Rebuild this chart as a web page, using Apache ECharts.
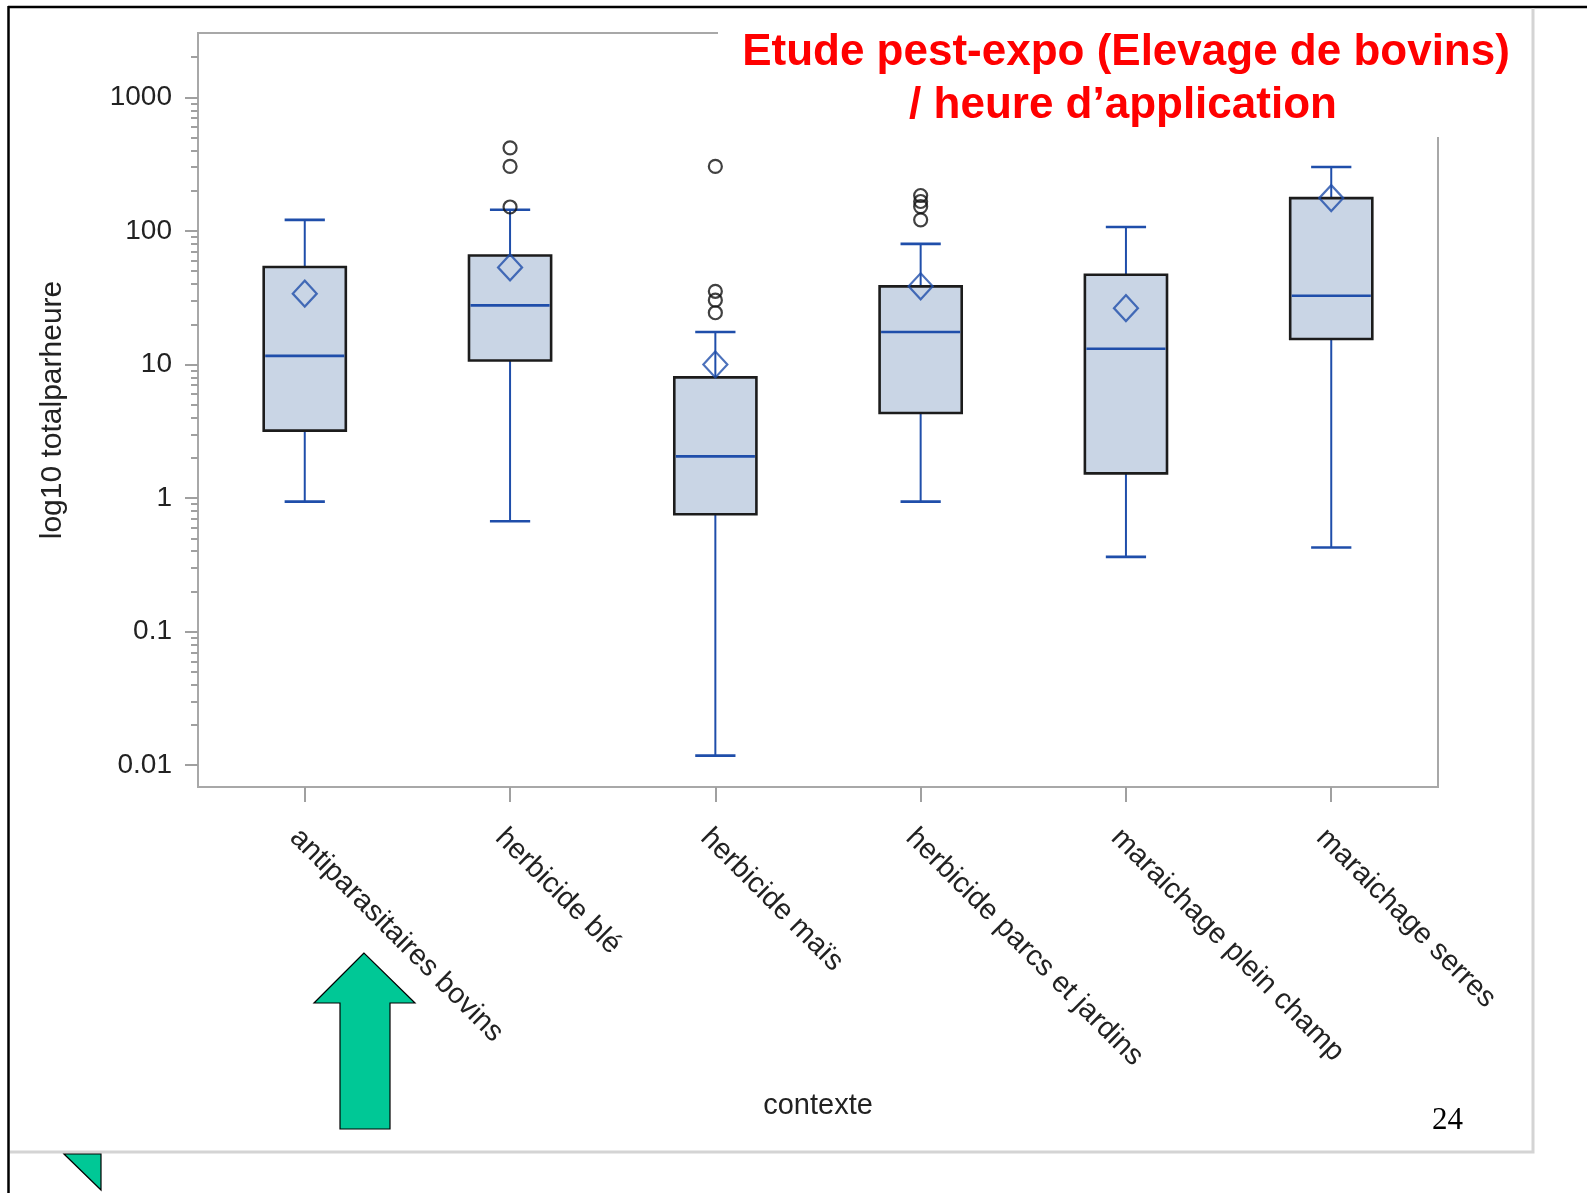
<!DOCTYPE html>
<html>
<head>
<meta charset="utf-8">
<script src="https://cdn.jsdelivr.net/npm/echarts@6/dist/echarts.min.js"></script>
<style>
  html, body { margin: 0; padding: 0; background: #ffffff; }
  #chart { width: 1587px; height: 1193px; }
</style>
</head>
<body>
<div id="chart"></div>
<script>
// Exposure per hour of application, by context (log scale)
const categories = ['antiparasitaires bovins', 'herbicide blé', 'herbicide maïs',
  'herbicide parcs et jardins', 'maraichage plein champ', 'maraichage serres'];
const whiskerLow  = [0.94, 0.67, 0.0118, 0.94, 0.363, 0.426];
const quartile1   = [3.2, 10.7, 0.757, 4.33, 1.53, 15.5];
const medians     = [11.6, 27.7, 2.05, 17.5, 13.1, 32.7];
const quartile3   = [53.6, 65.5, 8.0, 38.4, 47.0, 176];
const whiskerHigh = [121, 144, 17.5, 80, 107, 301];
const means       = [33.9, 53.3, 10.0, 38.5, 26.4, 176];
const outlierCategory = [1, 1, 1, 2, 2, 2, 2, 3, 3, 3, 3];
const outlierValue    = [418, 304, 151, 304, 35.3, 30.3, 24.4, 184, 166, 152, 121];
const yTickValues = [0.01, 0.1, 1, 10, 100, 1000];
const yTickLabels = ['0.01', '0.1', '1', '10', '100', '1000'];
const yRange = [0.00687, 3030];

const lg = Math.log10;
const BLUE = '#1f4eaa';
const FONT = '"Liberation Sans", Arial, Helvetica, sans-serif';

const majorTicks = yTickValues.map(lg);
const minorTicks = [];
for (let d = -2; d <= 3; d++) {
  for (let k = 2; k <= 9; k++) {
    const v = lg(k * Math.pow(10, d));
    if (v < lg(yRange[1]) - 0.1) minorTicks.push(v);
  }
}
const xTicks = categories.map((c, i) => i);

const boxData = categories.map((c, i) => [i, lg(whiskerLow[i]), lg(quartile1[i]),
  lg(medians[i]), lg(quartile3[i]), lg(whiskerHigh[i])]);
const meanData = categories.map((c, i) => [i, lg(means[i])]);
const outlierData = outlierValue.map((v, j) => [outlierCategory[j], lg(v)]);

function renderBox(params, api) {
  const x = api.value(0);
  const unit = api.size([1, 0])[0];
  const half = unit * 0.2;
  const capHalf = unit * 0.098;
  const pLow = api.coord([x, api.value(1)]);
  const pQ1 = api.coord([x, api.value(2)]);
  const pMed = api.coord([x, api.value(3)]);
  const pQ3 = api.coord([x, api.value(4)]);
  const pHigh = api.coord([x, api.value(5)]);
  const cx = pLow[0];
  const whisker = { stroke: BLUE, lineWidth: 2 };
  const cap = { stroke: BLUE, lineWidth: 2.6 };
  return {
    type: 'group',
    children: [
      { type: 'line', shape: { x1: cx, y1: pQ1[1], x2: cx, y2: pLow[1] }, style: whisker },
      { type: 'line', shape: { x1: cx, y1: pQ3[1], x2: cx, y2: pHigh[1] }, style: whisker },
      { type: 'line', shape: { x1: cx - capHalf, y1: pLow[1], x2: cx + capHalf, y2: pLow[1] }, style: cap },
      { type: 'line', shape: { x1: cx - capHalf, y1: pHigh[1], x2: cx + capHalf, y2: pHigh[1] }, style: cap },
      { type: 'rect', shape: { x: cx - half, y: pQ3[1], width: half * 2, height: pQ1[1] - pQ3[1] },
        style: { fill: '#c9d5e5', stroke: '#1c1c1c', lineWidth: 2.6 } },
      { type: 'line', shape: { x1: cx - half + 1.5, y1: pMed[1], x2: cx + half - 1.5, y2: pMed[1] },
        style: { stroke: BLUE, lineWidth: 2.6 } }
    ]
  };
}

const chart = echarts.init(document.getElementById('chart'), null, { renderer: 'canvas' });
chart.setOption({
  animation: false,
  backgroundColor: '#ffffff',
  grid: {
    left: 198, right: 149, top: 33, bottom: 406,
    show: true, borderColor: '#a8a8a8', borderWidth: 2,
    containLabel: false, outerBoundsMode: 'none'
  },
  xAxis: {
    type: 'value', min: -0.52, max: 5.52, position: 'bottom',
    axisLine: { show: false, onZero: false },
    splitLine: { show: false },
    axisTick: { show: true, customValues: xTicks, length: 15, lineStyle: { color: '#a0a0a0', width: 2 } },
    axisLabel: {
      customValues: xTicks, formatter: v => categories[Math.round(v)],
      rotate: -45, verticalAlign: 'top', margin: 36,
      fontSize: 29, color: '#222', fontFamily: FONT
    },
    name: 'contexte', nameLocation: 'middle', nameGap: 304,
    nameTextStyle: { fontSize: 29, color: '#222', fontFamily: FONT }
  },
  yAxis: [{
    type: 'value', min: lg(yRange[0]), max: lg(yRange[1]), position: 'left',
    axisLine: { show: false, onZero: false },
    splitLine: { show: false },
    axisTick: { show: true, customValues: majorTicks, length: 13, lineStyle: { color: '#a0a0a0', width: 2 } },
    axisLabel: {
      customValues: majorTicks,
      formatter: v => {
        const k = majorTicks.findIndex(t => Math.abs(t - v) < 1e-6);
        return k >= 0 ? yTickLabels[k] : '';
      },
      margin: 26, fontSize: 28, color: '#222', fontFamily: FONT
    },
    name: 'log10 totalparheure', nameLocation: 'middle', nameGap: 130,
    nameTextStyle: { fontSize: 30, color: '#222', fontFamily: FONT }
  }, {
    type: 'value', min: lg(yRange[0]), max: lg(yRange[1]), position: 'left',
    axisLine: { show: false, onZero: false },
    splitLine: { show: false },
    axisLabel: { show: false },
    axisTick: { show: true, customValues: minorTicks, length: 7, lineStyle: { color: '#a0a0a0', width: 2 } }
  }],
  series: [{
    type: 'custom',
    renderItem: renderBox,
    encode: { x: 0, y: [1, 2, 3, 4, 5] },
    data: boxData,
    z: 2
  }, {
    type: 'scatter',
    data: meanData,
    symbol: 'diamond',
    symbolSize: [24, 26],
    itemStyle: { color: 'rgba(0,0,0,0)', borderColor: BLUE, borderWidth: 2.2 },
    z: 4
  }, {
    type: 'scatter',
    data: outlierData,
    symbol: 'circle',
    symbolSize: 13,
    itemStyle: { color: 'rgba(0,0,0,0)', borderColor: '#111', borderWidth: 2.2 },
    z: 5
  }],
  graphic: {
    elements: [
      { type: 'rect', shape: { x: 718, y: 12, width: 745, height: 125 }, style: { fill: '#ffffff' }, z: 50 },
      { type: 'text', x: 1126, y: 53, z: 51,
        style: { text: 'Etude pest-expo (Elevage de bovins)', font: 'bold 44px ' + FONT,
          fill: '#ff0000', align: 'center', verticalAlign: 'middle' } },
      { type: 'text', x: 1123, y: 106, z: 51,
        style: { text: '/ heure d\u2019application', font: 'bold 44px ' + FONT,
          fill: '#ff0000', align: 'center', verticalAlign: 'middle' } },
      { type: 'line', z: 52, shape: { x1: 8, y1: 7, x2: 1587, y2: 7 }, style: { stroke: '#000', lineWidth: 2.5 } },
      { type: 'line', z: 52, shape: { x1: 8.5, y1: 6, x2: 8.5, y2: 1193 }, style: { stroke: '#000', lineWidth: 2.5 } },
      { type: 'polyline', z: 52, shape: { points: [[10, 1152], [1533, 1152], [1533, 8]] },
        style: { stroke: '#d4d4d4', lineWidth: 3, fill: null } },
      { type: 'polygon', z: 53,
        shape: { points: [[364, 953], [314, 1003], [340, 1003], [340, 1129], [390, 1129], [390, 1003], [415, 1003]] },
        style: { fill: '#00c896', stroke: '#000', lineWidth: 1.2 } },
      { type: 'polygon', z: 53, shape: { points: [[64, 1154], [101, 1154], [101, 1190]] },
        style: { fill: '#00c896', stroke: '#000', lineWidth: 1.2 } },
      { type: 'text', x: 1432, y: 1121, z: 53,
        style: { text: '24', font: '31px "Liberation Serif", "Times New Roman", serif',
          fill: '#000', verticalAlign: 'middle' } }
    ]
  }
});
</script>
</body>
</html>
